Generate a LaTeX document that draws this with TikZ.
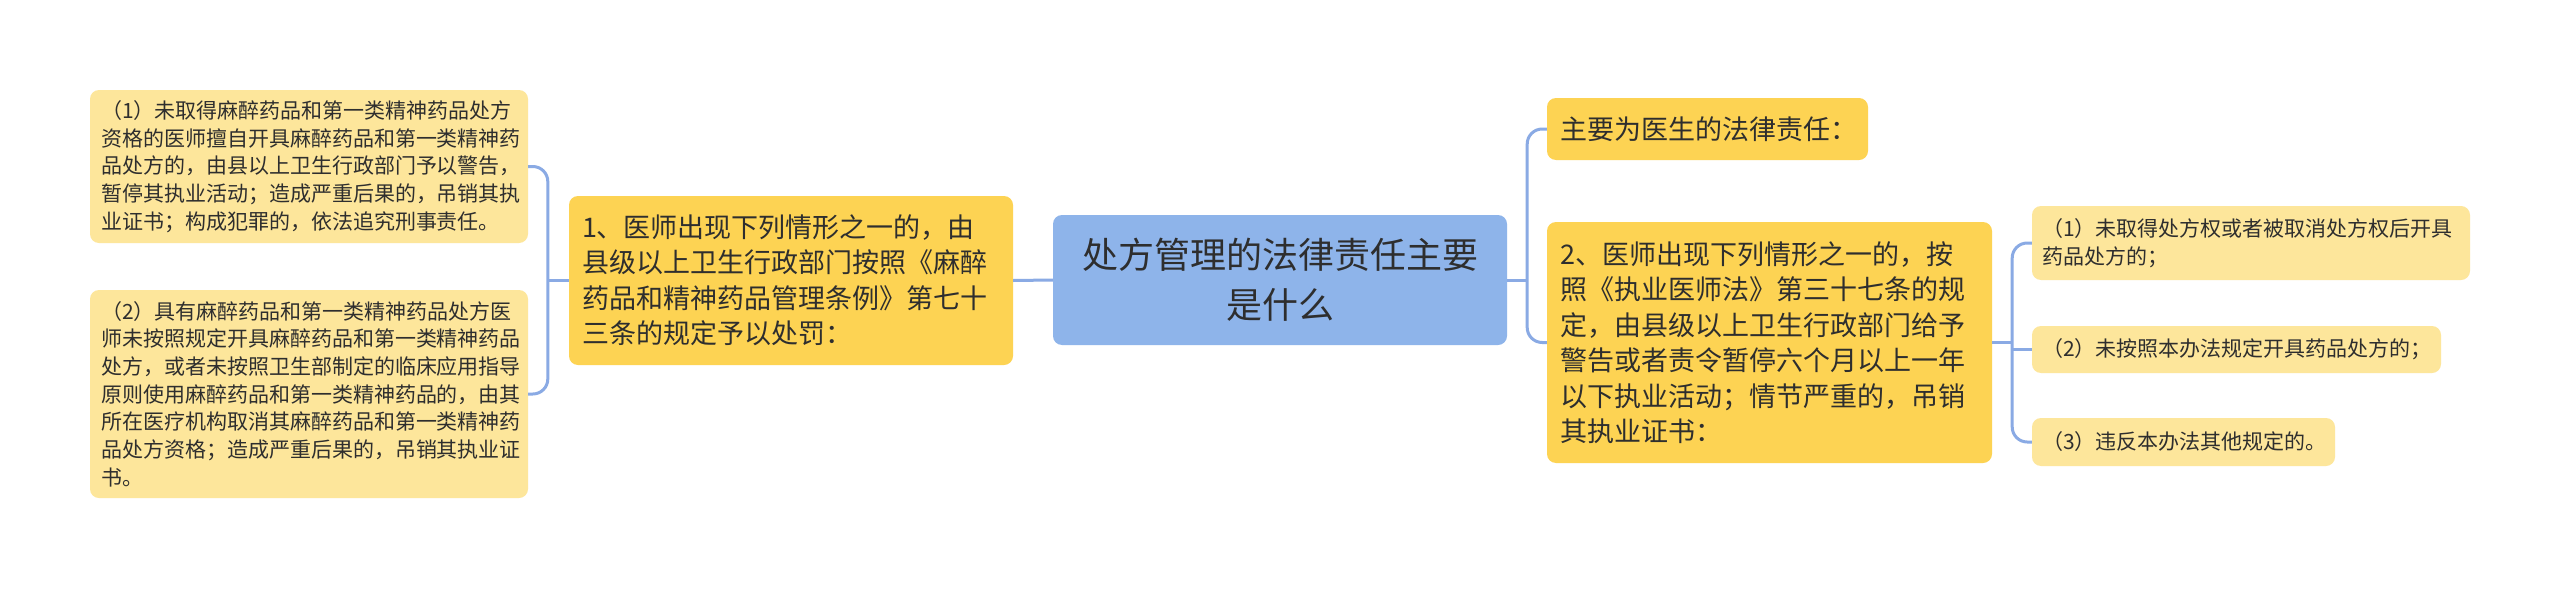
\documentclass[tikz,border=0pt]{standalone}
\usepackage{fontspec}
\setmainfont{Noto Sans CJK SC}
\definecolor{txt}{HTML}{2E2E2E}
\definecolor{leafc}{HTML}{FDE69B}
\definecolor{midc}{HTML}{FDD353}
\definecolor{rootc}{HTML}{8EB4EA}
\definecolor{connc}{HTML}{8AAAE4}
\begin{document}
\begin{tikzpicture}[x=1pt,y=-1pt,
  box/.style={rounded corners=9pt, draw=none, text=txt, inner ysep=0pt, align=left, anchor=center},
  leaf/.style={box, fill=leafc, font=\fontsize{21}{27.7}\selectfont, inner xsep=11pt},
  rleaf/.style={box, fill=leafc, font=\fontsize{21}{28}\selectfont, inner xsep=10pt},
  mid/.style={box, fill=midc, font=\fontsize{27}{35.5}\selectfont, inner xsep=13pt},
  root/.style={box, fill=rootc, font=\fontsize{36}{50}\selectfont, align=center, inner xsep=0pt},
  conn/.style={draw=connc, line width=3pt, rounded corners=15pt}]
\useasboundingbox[fill=white] (0,0) rectangle (2560,589);

% nodes
\node[root, minimum width=454pt, minimum height=130pt] (c) at (1280,280) {处方管理的法律责任主要\\是什么};

\node[mid, text width=418pt, minimum height=169pt] (n1) at (791,280.5) {1、医师出现下列情形之一的，由\\县级以上卫生行政部门按照《麻醉\\药品和精神药品管理条例》第七十\\三条的规定予以处罚：};

\node[leaf, text width=416pt, minimum height=153pt] (l1) at (309,166.5) {（1）未取得麻醉药品和第一类精神药品处方\\资格的医师擅自开具麻醉药品和第一类精神药\\品处方的，由县以上卫生行政部门予以警告，\\暂停其执业活动；造成严重后果的，吊销其执\\业证书；构成犯罪的，依法追究刑事责任。};

\node[leaf, text width=416pt, minimum height=208pt] (l2) at (309,394) {（2）具有麻醉药品和第一类精神药品处方医\\师未按照规定开具麻醉药品和第一类精神药品\\处方，或者未按照卫生部制定的临床应用指导\\原则使用麻醉药品和第一类精神药品的，由其\\所在医疗机构取消其麻醉药品和第一类精神药\\品处方资格；造成严重后果的，吊销其执业证\\书。};

\node[mid, text width=295pt, minimum height=62pt] (m) at (1707.5,129) {主要为医生的法律责任：};

\node[mid, text width=419pt, minimum height=241pt] (n2) at (1769.5,342.5) {2、医师出现下列情形之一的，按\\照《执业医师法》第三十七条的规\\定，由县级以上卫生行政部门给予\\警告或者责令暂停六个月以上一年\\以下执业活动；情节严重的，吊销\\其执业证书：};

\node[rleaf, text width=418pt, minimum height=74pt] (r1) at (2251,243) {（1）未取得处方权或者被取消处方权后开具\\药品处方的；};
\node[rleaf, text width=389pt, minimum height=47pt] (r2) at (2236.5,349.5) {（2）未按照本办法规定开具药品处方的；};
\node[rleaf, text width=283pt, minimum height=48pt] (r3) at (2183.5,442) {（3）违反本办法其他规定的。};

% junctions
\coordinate (jl) at ([xshift=-21pt]n1.west);
\coordinate (jr) at ([xshift=20pt]c.east);
\coordinate (jr2) at ([xshift=20pt]n2.east);

% connectors
\draw[conn] (c.west) -- (n1.east);
\draw[conn] (n1.west) -- (jl);
\draw[conn] (l1.east) -| (jl) |- (l2.east);

\draw[conn] (c.east) -- (jr);
\draw[conn] (m.west) -| (jr) |- (n2.west);

\draw[conn] (n2.east) -- (jr2);
\draw[conn] (r1.west) -| (jr2) |- (r3.west);
\draw[conn] (jr2 |- r2.west) -- (r2.west);
\end{tikzpicture}
\end{document}
